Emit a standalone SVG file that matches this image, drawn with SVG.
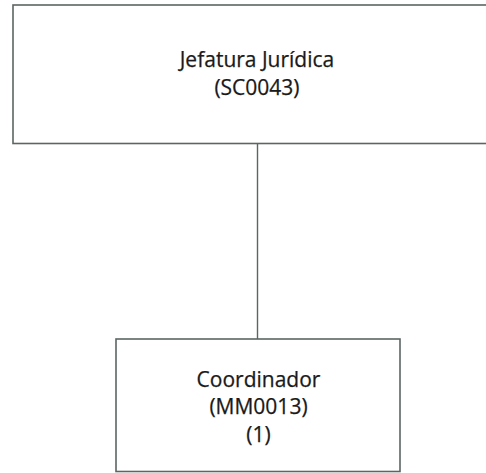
<svg xmlns="http://www.w3.org/2000/svg" width="486" height="473" viewBox="0 0 486 473">
<style>
.box{fill:#ffffff;stroke:#5b6663;stroke-width:1.6}
.conn{stroke:#5b6663;stroke-width:1.4;fill:none}
.t{font-family:"Open Sans","Noto Sans","Liberation Sans",sans-serif;font-size:21px;fill:#1a1a1a;stroke:#1a1a1a;stroke-width:0.25;text-anchor:middle}
</style>
<rect x="0" y="0" width="486" height="473" fill="#ffffff"/>
<g id="connectors">
<line class="conn" x1="257.5" y1="143.5" x2="257.5" y2="339"/>
</g>
<g id="node-jefatura">
<rect class="box" x="13" y="5" width="490" height="138.5"/>
<text class="t" x="257" y="66.5">Jefatura Jurídica</text>
<text class="t" x="257" y="94.5">(SC0043)</text>
</g>
<g id="node-coordinador">
<rect class="box" x="116" y="339" width="284" height="132.5"/>
<text class="t" x="258.5" y="386.5">Coordinador</text>
<text class="t" x="258.5" y="414">(MM0013)</text>
<text class="t" x="258.5" y="441.5">(1)</text>
</g>
</svg>
